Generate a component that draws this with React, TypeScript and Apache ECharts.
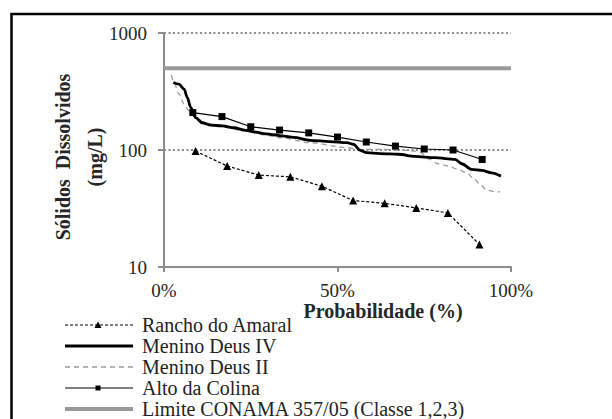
import React, { useEffect, useRef } from "react";
import * as echarts from "echarts";

// Probability (%) positions and TDS values (mg/L)
const ranchoX = [9.1, 18.2, 27.3, 36.4, 45.5, 54.5, 63.6, 72.7, 81.8, 90.9];
const ranchoY = [98, 73, 61, 59, 49, 37, 35, 32, 29, 15.6];

const alto_X = [8.3, 16.7, 25, 33.3, 41.7, 50, 58.3, 66.7, 75, 83.3, 91.7];
const alto_Y = [209, 193, 158, 148, 140, 129, 117, 108, 102, 100, 83];

const menino4X = [2.7, 4.3, 5.8, 6.7, 7.7, 9.1, 11.0, 13.5, 16.8, 20.2, 23.1, 25.9, 28.8, 31.7, 34.1, 37.3, 42.1, 47.8, 52.7, 54.6, 56.5, 58.4, 62.3, 67.5, 72.3, 78.1, 83.9, 85.8, 88.7, 91.6, 94.4, 97.1];
const menino4Y = [378, 366, 332, 281, 231, 189, 171, 163, 161, 155, 148, 143, 138, 135, 132, 128, 121, 118, 115.5, 112, 99.4, 94.8, 93, 92, 88.3, 85.9, 83.2, 76.3, 68.2, 66.9, 63.8, 59.8];

const menino2X = [2.1, 2.9, 4.3, 5.8, 7.2, 8.9, 11.8, 16.7, 23.1, 28.8, 34.0, 42.1, 52.7, 55.9, 62.3, 68.0, 72.6, 74.0, 76.2, 79.0, 81.9, 84.8, 87.2, 89.1, 91.1, 93.0, 95.4, 96.8];
const menino2Y = [437, 378, 301, 247, 216, 192, 170, 157, 146, 135, 127, 115.5, 104.7, 101.4, 101.4, 100, 98, 95, 84, 76.3, 73, 68.2, 63.8, 57.8, 50.8, 45.4, 43.9, 43.9];

const limitX = [0, 100];
const limitY = [500, 500];

const seriesNames = [
  "Rancho do Amaral",
  "Menino Deus IV",
  "Menino Deus II",
  "Alto da Colina",
  "Limite CONAMA 357/05 (Classe 1,2,3)",
];

const xTitle = "Probabilidade (%)";
const yTitle = "Sólidos  Dissolvidos\n(mg/L)";

const zip = (xs: number[], ys: number[]) => xs.map((x, i) => [x, ys[i]]);

const FONT = '"Liberation Serif", "DejaVu Serif", serif';

const GREY = "#9a9a9a";
const seriesStyles = [
  { color: "#000", width: 1.2, dash: [3, 2] as number[] | null, marker: "triangle" },
  { color: "#000", width: 2.8, dash: null, marker: "none" },
  { color: GREY, width: 1.3, dash: [5, 4], marker: "none" },
  { color: "#000", width: 1.2, dash: null, marker: "rect" },
  { color: GREY, width: 4, dash: null, marker: "none" },
];

function buildLegend() {
  const els: any[] = [];
  const x0 = 65;
  const x1 = 133;
  const xm = 98;
  const rowTop = 325;
  const rowStep = 21;
  seriesNames.forEach((name, i) => {
    const st = seriesStyles[i];
    const y = rowTop + i * rowStep;
    els.push({
      type: "line",
      shape: { x1: x0, y1: y, x2: x1, y2: y },
      style: { stroke: st.color, lineWidth: st.width, lineDash: st.dash || undefined },
      silent: true,
    });
    if (st.marker === "triangle") {
      els.push({
        type: "polygon",
        shape: { points: [[xm, y - 3.5], [xm + 3.5, y + 3], [xm - 3.5, y + 3]] },
        style: { fill: "#000" },
        silent: true,
      });
    } else if (st.marker === "rect") {
      els.push({
        type: "rect",
        shape: { x: xm - 2.5, y: y - 2.5, width: 5, height: 5 },
        style: { fill: "#000" },
        silent: true,
      });
    }
    els.push({
      type: "text",
      x: 142,
      y: y,
      style: {
        text: name,
        font: `20px ${FONT}`,
        fill: "#222",
        align: "left",
        verticalAlign: "middle",
      },
      silent: true,
    });
  });
  return els;
}

export default function App() {
  const ref = useRef<HTMLDivElement>(null);
  useEffect(() => {
    if (!ref.current) return;
    const chart = echarts.init(ref.current, undefined, { renderer: "svg" });
    const axisGrey = "#8c8c8c";
    chart.setOption({
      animation: false,
      backgroundColor: "#fff",
      grid: { left: 164, right: 101, top: 33, bottom: 152, containLabel: false },
      xAxis: {
        type: "value",
        min: 0,
        max: 100,
        interval: 50,
        axisLine: { show: true, lineStyle: { color: axisGrey, width: 2 } },
        axisTick: { show: true, length: 5, lineStyle: { color: axisGrey, width: 2 } },
        axisLabel: {
          formatter: (v: number) => `${v}%`,
          fontFamily: FONT,
          fontSize: 19,
          color: "#262626",
          margin: 14,
        },
        splitLine: { show: false },
      },
      yAxis: {
        type: "log",
        logBase: 10,
        min: 10,
        max: 1000,
        axisLine: { show: true, lineStyle: { color: axisGrey, width: 2 } },
        axisTick: { show: true, length: 6, lineStyle: { color: axisGrey, width: 2 } },
        axisLabel: {
          formatter: (v: number) => String(Math.round(v)),
          fontFamily: FONT,
          fontSize: 19,
          color: "#262626",
          margin: 17,
        },
        splitLine: { show: true, lineStyle: { color: axisGrey, width: 2, type: [2, 2.5] } },
        minorTick: { show: false },
      },
      legend: { show: false },
      graphic: [
        {
          type: "rect",
          shape: { x: 11.5, y: 14, width: 800, height: 600 },
          style: { fill: "none", stroke: "#000", lineWidth: 2.5 },
          silent: true,
        },
        {
          type: "text",
          x: 79,
          y: 157,
          rotation: Math.PI / 2,
          style: {
            text: yTitle,
            font: `bold 20px ${FONT}`,
            fill: "#262626",
            align: "center",
            verticalAlign: "middle",
            lineHeight: 32,
          },
        },
        {
          type: "text",
          x: 383,
          y: 311,
          style: {
            text: xTitle,
            font: `bold 20px ${FONT}`,
            fill: "#262626",
            align: "center",
            verticalAlign: "middle",
          },
        },
        ...buildLegend(),
      ],
      series: [
        {
          name: seriesNames[0],
          type: "line",
          data: zip(ranchoX, ranchoY),
          symbol: "triangle",
          symbolSize: 8,
          itemStyle: { color: "#000" },
          lineStyle: { color: "#000", width: 1.2, type: [3, 2] },
          z: 3,
        },
        {
          name: seriesNames[1],
          type: "line",
          data: zip(menino4X, menino4Y),
          symbol: "none",
          smooth: 0.3,
          smoothMonotone: "x",
          itemStyle: { color: "#000" },
          lineStyle: { color: "#000", width: 2.8 },
          z: 3,
        },
        {
          name: seriesNames[2],
          type: "line",
          data: zip(menino2X, menino2Y),
          symbol: "none",
          smooth: 0.3,
          smoothMonotone: "x",
          itemStyle: { color: GREY },
          lineStyle: { color: GREY, width: 1.3, type: [5, 4] },
          z: 2,
        },
        {
          name: seriesNames[3],
          type: "line",
          data: zip(alto_X, alto_Y),
          symbol: "rect",
          symbolSize: 7,
          itemStyle: { color: "#000" },
          lineStyle: { color: "#000", width: 1.2 },
          z: 4,
        },
        {
          name: seriesNames[4],
          type: "line",
          data: zip(limitX, limitY),
          symbol: "none",
          itemStyle: { color: GREY },
          lineStyle: { color: GREY, width: 4 },
          z: 2,
        },
      ],
    });
    return () => chart.dispose();
  }, []);
  return (
    <div
      ref={ref}
      style={{ position: "fixed", left: 0, top: 0, width: 612, height: 419, background: "#fff" }}
    />
  );
}
